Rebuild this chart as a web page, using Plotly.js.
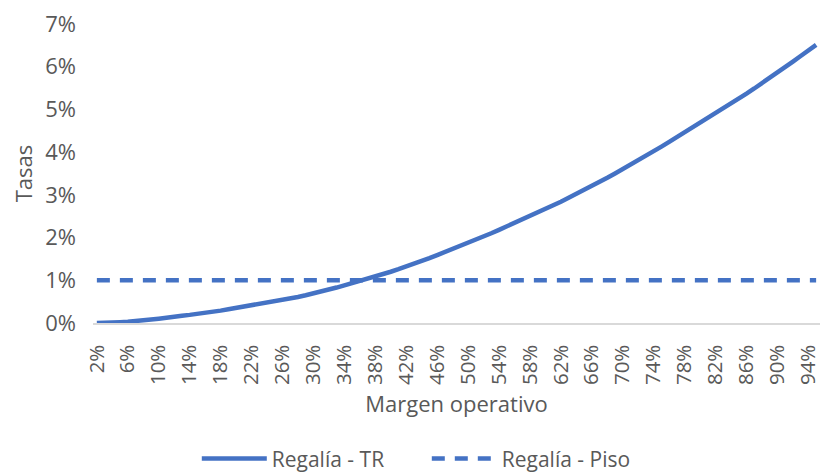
<!DOCTYPE html>
<html>
<head>
<meta charset="utf-8">
<script src="https://cdn.plot.ly/plotly-3.0.1.min.js"></script>
<style>html,body{margin:0;padding:0;background:#fff;}#chart{width:820px;height:474px;}</style>
</head>
<body>
<div id="chart"></div>
<script>
// Margen operativo categories (2% .. 95%)
const margins = [];
for (let m = 2; m <= 95; m++) margins.push(m + '%');

// Regalía - TR (%)
const regaliaTR = [
  0.00, 0.00, 0.01, 0.02, 0.03, 0.04, 0.06, 0.08, 0.10, 0.13,
  0.15, 0.17, 0.19, 0.21, 0.24, 0.26, 0.29, 0.32, 0.35, 0.38,
  0.41, 0.44, 0.47, 0.50, 0.53, 0.57, 0.61, 0.65, 0.69, 0.73,
  0.78, 0.83, 0.88, 0.93, 0.98, 1.04, 1.09, 1.15, 1.20, 1.26,
  1.32, 1.38, 1.45, 1.52, 1.59, 1.66, 1.73, 1.80, 1.87, 1.94,
  2.02, 2.10, 2.18, 2.26, 2.34, 2.42, 2.50, 2.58, 2.66, 2.75,
  2.84, 2.93, 3.02, 3.11, 3.20, 3.30, 3.40, 3.50, 3.60, 3.70,
  3.80, 3.91, 4.02, 4.13, 4.24, 4.35, 4.46, 4.57, 4.68, 4.79,
  4.90, 5.01, 5.13, 5.25, 5.37, 5.49, 5.61, 5.73, 5.86, 5.99,
  6.12, 6.25, 6.38, 6.51
];

// Regalía - Piso (%)
const regaliaPiso = margins.map(() => 1);

const yTicks = [0, 1, 2, 3, 4, 5, 6, 7];

const blue = '#4472C4';
const gray = '#595959';
const font = 'Open Sans, "Segoe UI", sans-serif';

const traces = [
  {
    x: margins, y: regaliaTR, name: 'Regalía - TR', type: 'scatter', mode: 'lines',
    line: {color: blue, width: 4.5}, hoverinfo: 'skip'
  },
  {
    x: margins, y: regaliaPiso, name: 'Regalía - Piso', type: 'scatter', mode: 'lines',
    line: {color: blue, width: 4.5, dash: '13px,10px'}, hoverinfo: 'skip'
  }
];

const layout = {
  width: 820, height: 474,
  margin: {l: 93, r: 0, t: 24, b: 151},
  paper_bgcolor: '#fff', plot_bgcolor: '#fff',
  font: {family: font, color: gray, size: 20},
  showlegend: true,
  legend: {
    orientation: 'h', xref: 'container', x: 0.24, xanchor: 'left',
    yref: 'container', y: 0.075, yanchor: 'top',
    font: {family: font, color: gray, size: 21},
    itemwidth: 65, entrywidth: 150, tracegroupgap: 0
  },
  xaxis: {
    type: 'category', range: [-0.5, margins.length - 0.5],
    tickmode: 'linear', tick0: 0, dtick: 4, tickangle: -90,
    showgrid: false, zeroline: false, showline: true, linecolor: '#d9d9d9', linewidth: 1.5,
    ticks: '', ticklabelstandoff: 12,
    tickfont: {family: font, color: gray, size: 20.5},
    title: {text: 'Margen operativo', font: {family: font, color: gray, size: 22}, standoff: 12}
  },
  yaxis: {
    range: [0, 7], tickvals: yTicks, ticktext: yTicks.map(v => v + '%'),
    showgrid: false, zeroline: false, showline: false, ticks: '',
    ticklabelstandoff: 16,
    tickfont: {family: font, color: gray, size: 22},
    title: {text: 'Tasas', font: {family: font, color: gray, size: 22}, standoff: 6}
  }
};

Plotly.newPlot('chart', traces, layout, {staticPlot: true, displayModeBar: false});
</script>
</body>
</html>
